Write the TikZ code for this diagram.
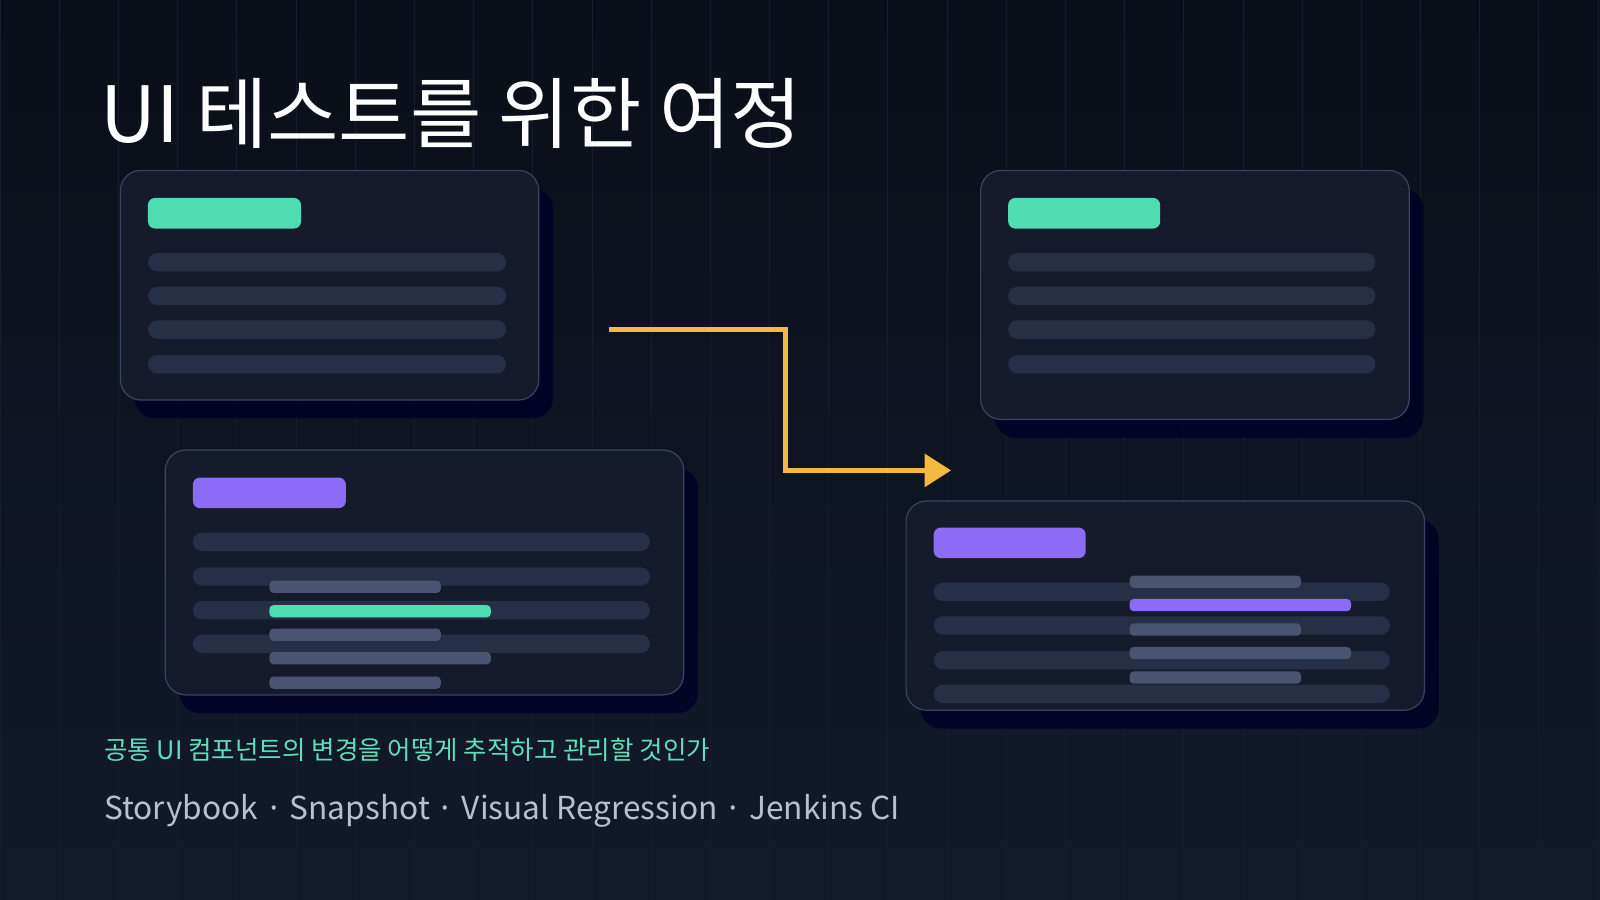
\documentclass[tikz,border=0pt]{standalone}
\usepackage{fontspec}
\setmainfont{Noto Sans CJK KR}
\usetikzlibrary{arrows.meta,shadows}
\definecolor{bgtop}{HTML}{0A0E18}
\definecolor{bgbot}{HTML}{121A2A}
\definecolor{gridc}{HTML}{161D2C}
\definecolor{cardf}{HTML}{151B2B}
\definecolor{cardb}{HTML}{3A4460}
\definecolor{greenc}{HTML}{4FDCB0}
\definecolor{purplec}{HTML}{8C6CF7}
\definecolor{barc}{HTML}{262F45}
\definecolor{grayb}{HTML}{4A5470}
\definecolor{yell}{HTML}{F5B942}
\definecolor{subc}{HTML}{5FE0B8}
\definecolor{footc}{HTML}{B8C0D0}
\tikzset{
 card/.style={fill=cardf,draw=cardb,line width=1.2pt,rounded corners=20pt},
 shad/.style={fill=black!85!blue,opacity=0.8,rounded corners=20pt},
 pill/.style={rounded corners=7pt},
 bar/.style={fill=barc,rounded corners=9pt},
 sbar/.style={rounded corners=4pt},
}
\newcommand{\cardat}[5]{% x1 y1 x2 y2 name
 \fill[shad] (#1+14,#2+18) rectangle (#3+14,#4+18);
 \draw[card] (#1,#2) rectangle (#3,#4) node[coordinate] (#5) {};}
\begin{document}
\begin{tikzpicture}[x=1pt,y=-1pt]
\shade[top color=bgtop,bottom color=bgbot] (0,0) rectangle (1568,882);
\useasboundingbox (0,0) rectangle (1568,882);
\draw[gridc,line width=0.6pt] (0,0) grid[step=58] (1568,882);
\node[anchor=base west,text=white,font=\fontsize{76}{80}\selectfont,inner sep=0] (title) at (98,140) {UI 테스트를 위한 여정};
% card 1
\cardat{118}{167}{528}{392}{c1}
\fill[greenc,pill] (145,194) rectangle (295,224);
\foreach \y in {257,290,323,357}{\fill[bar] (145,\y-9) rectangle (496,\y+9);}
% card 2
\cardat{162}{441}{670}{681}{c2}
\fill[purplec,pill] (189,468) rectangle (339,498);
\foreach \y in {531,565,598,631}{\fill[bar] (189,\y-9) rectangle (637,\y+9);}
\fill[grayb,sbar] (264,569) rectangle (432,581);
\fill[greenc,sbar] (264,593) rectangle (481,605);
\fill[grayb,sbar] (264,616) rectangle (432,628);
\fill[grayb,sbar] (264,639) rectangle (481,651);
\fill[grayb,sbar] (264,663) rectangle (432,675);
% card 3
\cardat{961}{167}{1381}{411}{c3}
\fill[greenc,pill] (988,194) rectangle (1137,224);
\foreach \y in {257,290,323,357}{\fill[bar] (988,\y-9) rectangle (1348,\y+9);}
% card 4
\cardat{888}{491}{1396}{696}{c4}
\fill[purplec,pill] (915,517) rectangle (1064,547);
\foreach \y in {580,613,647,680}{\fill[bar] (915,\y-9) rectangle (1362,\y+9);}
\fill[grayb,sbar] (1107,564) rectangle (1275,576);
\fill[purplec,sbar] (1107,587) rectangle (1324,599);
\fill[grayb,sbar] (1107,611) rectangle (1275,623);
\fill[grayb,sbar] (1107,634) rectangle (1324,646);
\fill[grayb,sbar] (1107,658) rectangle (1275,670);
% arrow
\coordinate (a0) at (597,323);
\coordinate (a1) at (932,461);
\draw[yell,line width=4.5pt,-{Triangle[length=26pt,width=32pt]}] (a0) -- (770,323) -- (770,461) -- (a1);
\node[anchor=base west,text=subc,font=\fontsize{25}{28}\selectfont,inner sep=0] (sub) at (102,744) {공통 UI 컴포넌트의 변경을 어떻게 추적하고 관리할 것인가};
\node[anchor=base west,text=footc,font=\fontsize{31}{34}\selectfont,inner sep=0] (foot) at (102,803) {Storybook · Snapshot · Visual Regression · Jenkins CI};
\end{tikzpicture}
\end{document}
